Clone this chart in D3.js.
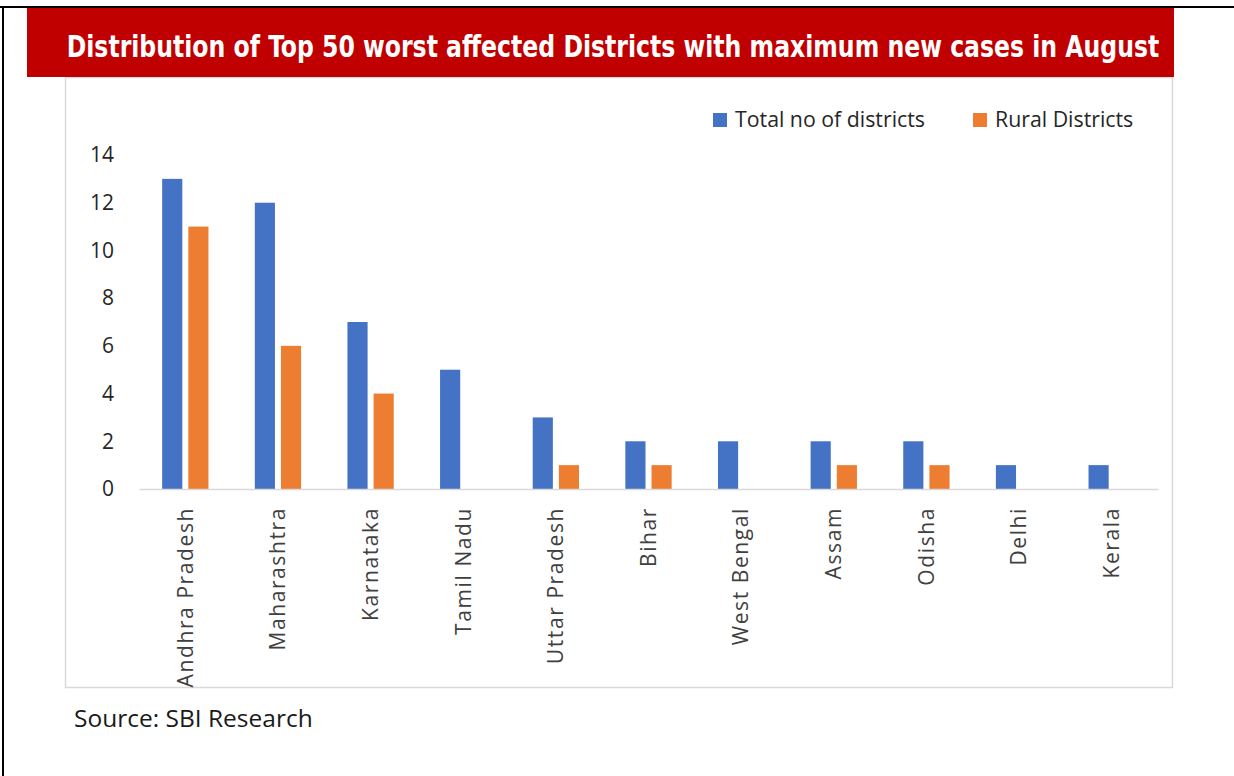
<!DOCTYPE html>
<html><head><meta charset="utf-8">
<script src="https://cdn.jsdelivr.net/npm/d3@7"></script>
<style>body{margin:0;background:#fff;}svg{display:block;}</style>
</head><body>
<script>
const categories = ["Andhra Pradesh","Maharashtra","Karnataka","Tamil Nadu","Uttar Pradesh","Bihar","West Bengal","Assam","Odisha","Delhi","Kerala"];
const seriesNames = ["Total no of districts","Rural Districts"];
const totalValues = [13,12,7,5,3,2,2,2,2,1,1];
const ruralValues = [11,6,4,0,1,1,0,1,1,0,0];
const yTicks = [0,2,4,6,8,10,12,14];
const titleText = "Distribution of Top 50 worst affected Districts with maximum new cases in August";
const sourceText = "Source: SBI Research";

const W = 1234, H = 776;
const colors = {"Total no of districts":"#4472C4","Rural Districts":"#ED7D31"};
const svg = d3.select("body").append("svg").attr("width",W).attr("height",H);
svg.append("rect").attr("width",W).attr("height",H).attr("fill","#fff");

svg.append("line").attr("x1",0).attr("x2",W).attr("y1",7).attr("y2",7).attr("stroke","#000").attr("stroke-width",2);
svg.append("line").attr("x1",3).attr("x2",3).attr("y1",7).attr("y2",H).attr("stroke","#000").attr("stroke-width",2);

svg.append("rect").attr("x",65.5).attr("y",77.5).attr("width",1107).attr("height",610)
  .attr("fill","#fff").attr("stroke","#d9d9d9").attr("stroke-width",1.5);

svg.append("rect").attr("x",27).attr("y",8).attr("width",1147).attr("height",69).attr("fill","#C00000");
const title = svg.append("text").attr("x",0).attr("y",0).attr("text-anchor","middle")
  .attr("font-family","'DejaVu Sans Condensed','Open Sans',sans-serif").attr("font-weight","bold")
  .attr("font-size",30).attr("fill","#fff").text(titleText);
const tw = title.node().getComputedTextLength();
const sx = Math.min(1, 1093 / tw);
title.attr("transform",`translate(613,57) scale(${sx},1)`);

const x = d3.scaleBand().domain(categories).range([139,1158]).paddingInner(0.5).paddingOuter(0.25);
const xSub = d3.scaleBand().domain(seriesNames).range([0,x.bandwidth()]).paddingInner(0.23);
const y = d3.scaleLinear().domain([0,14]).range([489,155]);

const data = categories.map((c,i)=>({cat:c, vals:[{s:seriesNames[0],v:totalValues[i]},{s:seriesNames[1],v:ruralValues[i]}]}));

svg.append("g").selectAll("g.cat").data(data).join("g").attr("class","cat")
  .attr("transform",d=>`translate(${x(d.cat)},0)`)
  .selectAll("rect").data(d=>d.vals).join("rect")
  .attr("x",d=>xSub(d.s)).attr("width",xSub.bandwidth())
  .attr("y",d=>y(d.v)).attr("height",d=>y(0)-y(d.v))
  .attr("fill",d=>colors[d.s]);

const xAxis = svg.append("g").attr("transform",`translate(0,${y(0)})`)
  .call(d3.axisBottom(x).tickSize(0).tickPadding(0));
xAxis.select(".domain").attr("stroke","#d9d9d9").attr("stroke-width",1.5);
xAxis.selectAll(".tick text")
  .attr("font-family","'Open Sans',sans-serif")
  .attr("font-size",21).attr("fill","#404040")
  .attr("text-anchor","end").attr("dy","0.35em")
  .attr("transform","translate(0,18) rotate(-90)").attr("x",0).attr("y",0)
  .style("letter-spacing","1.6px");

const yAxis = svg.append("g").attr("transform","translate(114,0)")
  .call(d3.axisLeft(y).tickValues(yTicks).tickSize(0).tickPadding(0));
yAxis.select(".domain").remove();
yAxis.selectAll(".tick text").attr("font-family","'Open Sans',sans-serif")
  .attr("font-size",21).attr("fill","#262626");

const legend = svg.append("g");
const legPos = [{x:713, tx:735},{x:973, tx:995}];
seriesNames.forEach((s,i)=>{
  legend.append("rect").attr("x",legPos[i].x).attr("y",113).attr("width",14).attr("height",14).attr("fill",colors[s]);
  legend.append("text").attr("x",legPos[i].tx).attr("y",127)
    .attr("font-family","'Open Sans',sans-serif")
    .attr("font-size",21.3).attr("fill","#262626").text(s);
});

svg.append("text").attr("x",74).attr("y",727)
  .attr("font-family","'Open Sans',sans-serif")
  .attr("font-size",24.5).attr("fill","#1a1a1a").text(sourceText);
</script>
</body></html>
